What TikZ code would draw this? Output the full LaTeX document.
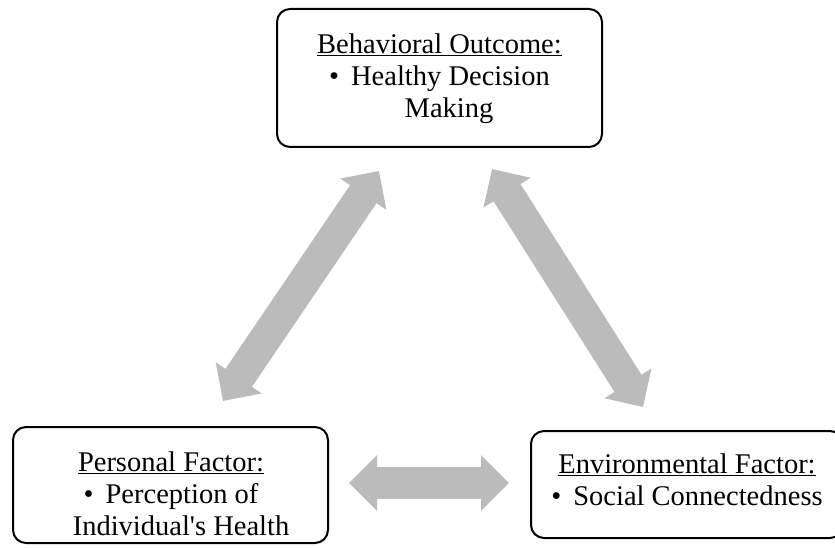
\documentclass[tikz,border=0pt]{standalone}
\usepackage{fontspec}
\setmainfont{Liberation Serif}
\usepackage{tikz}
\usetikzlibrary{arrows.meta}
\definecolor{Arrow_Gray}{HTML}{BBBBBB}

\begin{document}
\begin{tikzpicture}[x=1pt, y=-1pt,
    box/.style={draw=black, line width=2pt, rounded corners=13pt},
    boxtext/.style={align=center, inner sep=0pt, font=\fontsize{28.5}{32}\selectfont},
    link/.style={Arrow_Gray, line width=32pt,
        {Triangle[width=54pt,length=28pt]}-{Triangle[width=54pt,length=28pt]}}
]
    \useasboundingbox (0,0) rectangle (835,548);

    % Outcome and factor boxes
    \node[box, minimum width=325pt, minimum height=138pt] (outcome) at (439.5,78) {};
    \node[box, minimum width=315pt, minimum height=116pt] (personal) at (170.5,485) {};
    \node[box, minimum width=312pt, minimum height=107pt] (environment) at (687,484.5) {};

    % Texts inside the boxes
    \node[boxtext] (outcometext) at (439.5,79)
        {\underline{Behavioral Outcome:}\\ \textbullet\hspace{12pt}Healthy Decision\\ \hspace*{19pt}Making};
    \node[boxtext] (personaltext) at (171,494)
        {\underline{Personal Factor:}\\ \textbullet\hspace{12pt}Perception of\\ \hspace*{20pt}Individual\textquotesingle s Health};
    \node[boxtext] (environmenttext) at (687,480)
        {\underline{Environmental Factor:}\\ \textbullet\hspace{12pt}Social Connectedness};

    % Two-way arrows between the boxes
    \draw[link] ([xshift=52.5pt,yshift=25pt]personal.north) -- ([xshift=-60.5pt,yshift=-23pt]outcome.south);
    \draw[link] ([xshift=52.5pt,yshift=-21pt]outcome.south) -- ([xshift=-44pt,yshift=23pt]environment.north);
    \draw[link] ([xshift=20pt,yshift=2pt]personal.east) -- ([xshift=-21pt,yshift=1.5pt]environment.west);
\end{tikzpicture}
\end{document}
